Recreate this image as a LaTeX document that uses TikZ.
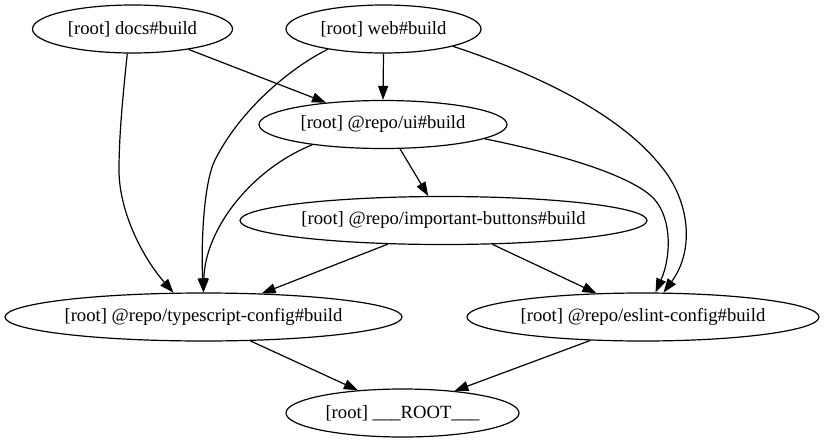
\documentclass[tikz,border=0pt]{standalone}
\usepackage{fontspec}
\setmainfont{Liberation Serif}
\usetikzlibrary{arrows.meta,shapes.geometric}
\begin{document}
\begin{tikzpicture}[x=0.75pt,y=-0.75pt,
  nd/.style={ellipse, draw, line width=0.9pt, inner sep=0pt, minimum height=36pt, font=\fontsize{14}{16}\selectfont},
  edge/.style={line width=0.9pt, -{Triangle[length=10.5pt,width=7.5pt]}}]
\useasboundingbox (0,0) rectangle (824,443);
\node[nd, minimum width=150pt] (docs) at (132.5,29) {[root] docs\#build};
\node[nd, minimum width=146.25pt] (web) at (383.5,29) {[root] web\#build};
\node[nd, minimum width=186pt] (ui) at (383,124.5) {[root] @repo/ui\#build};
\node[nd, minimum width=305.25pt] (imp) at (443.5,220.5) {[root] @repo/important-buttons\#build};
\node[nd, minimum width=297.75pt] (ts) at (203.5,317) {[root] @repo/typescript-config\#build};
\node[nd, minimum width=264pt] (es) at (643,317) {[root] @repo/eslint-config\#build};
\node[nd, minimum width=174.75pt] (root) at (402.5,413) {[root] \_\_\_ROOT\_\_\_};

% straight edges
\draw[edge] (docs.-20.85) -- (ui.159);
\draw[edge] (web.-90) -- (ui.90);
\draw[edge] (ui.-55.8) -- (imp.122.9);
\draw[edge] (imp.-157.3) -- (ts.22.3);
\draw[edge] (imp.-26.8) -- (es.153.4);
\draw[edge] (ts.-27.3) -- (root.153.2);
\draw[edge] (es.-156.8) -- (root.23.7);

% curved edges
\draw[edge] (docs.-102.4) .. controls (123,95) and (119,135) .. (119,170)
  .. controls (119,212) and (143,258) .. (ts.141.6);
\draw[edge] (web.-160.2) .. controls (290,68) and (240,110) .. (215,160)
  .. controls (203,184) and (201,250) .. (ts.90);
\draw[edge] (ui.-164.7) .. controls (250,170) and (205,230) .. (ts.90);
\draw[edge] (web.-14.7) .. controls (540,75) and (620,115) .. (660,165)
  .. controls (690,200) and (695,250) .. (es.50.2);
\draw[edge] (ui.-8.6) .. controls (540,150) and (620,170) .. (650,195)
  .. controls (672,213) and (672,255) .. (es.63.4);
\end{tikzpicture}
\end{document}
